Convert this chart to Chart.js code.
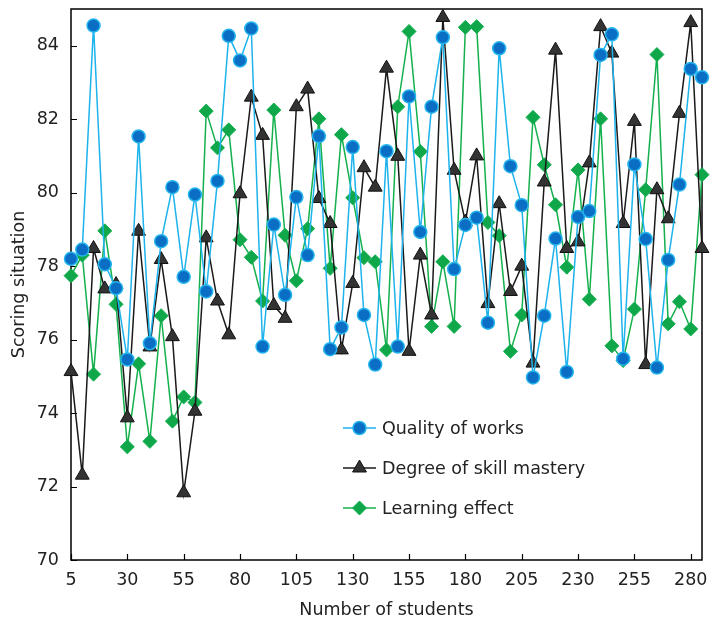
<!DOCTYPE html>
<html>
<head>
<meta charset="utf-8">
<script src="https://cdn.jsdelivr.net/npm/chart.js@4.4.1/dist/chart.umd.min.js"></script>
<style>
  html, body { margin: 0; padding: 0; background: #fff; }
</style>
</head>
<body>
<canvas id="c" width="711" height="623"></canvas>
<script>
// x categories (number of students)
const students = [5, 10, 15, 20, 25, 30, 35, 40, 45, 50, 55, 60, 65, 70, 75, 80, 85, 90, 95, 100,
  105, 110, 115, 120, 125, 130, 135, 140, 145, 150, 155, 160, 165, 170, 175, 180, 185, 190, 195, 200,
  205, 210, 215, 220, 225, 230, 235, 240, 245, 250, 255, 260, 265, 270, 275, 280, 285];

const quality = [78.2, 78.45, 84.55, 78.05, 77.4, 75.46, 81.53, 75.9, 78.68, 80.15,
  77.71, 79.95, 77.31, 80.32, 84.27, 83.6, 84.47, 75.81, 79.13, 77.22,
  79.88, 78.3, 81.54, 75.74, 76.33, 81.24, 76.67, 75.32, 81.13, 75.81,
  82.62, 78.93, 82.34, 84.23, 77.92, 79.12, 79.32, 76.46, 83.93, 80.72,
  79.66, 74.97, 76.65, 78.75, 75.12, 79.34, 79.5, 83.75, 84.31, 75.48,
  80.77, 78.74, 75.24, 78.17, 80.22, 83.37, 83.14];

const mastery = [75.13, 72.31, 78.48, 77.38, 77.5, 73.87, 78.95, 75.8, 78.18, 76.08,
  71.83, 74.05, 78.77, 77.05, 76.13, 79.97, 82.6, 81.56, 76.93, 76.58,
  82.34, 82.82, 79.84, 79.16, 75.72, 77.53, 80.68, 80.15, 83.39, 80.99,
  75.68, 78.3, 76.67, 84.77, 80.61, 79.2, 81.0, 76.98, 79.7, 77.31,
  78.0, 75.36, 80.29, 83.88, 78.48, 78.66, 80.81, 84.52, 83.8, 79.16,
  81.94, 75.32, 80.08, 79.29, 82.16, 84.63, 78.48];

const learning = [77.74, 78.3, 75.06, 78.96, 76.96, 73.08, 75.34, 73.23, 76.65, 73.78,
  74.44, 74.29, 82.22, 81.22, 81.71, 78.72, 78.24, 77.05, 82.25, 78.84,
  77.6, 79.02, 82.01, 77.94, 81.58, 79.86, 78.23, 78.12, 75.72, 82.34,
  84.39, 81.12, 76.36, 78.12, 76.36, 84.5, 84.52, 79.19, 78.83, 75.68,
  76.67, 82.05, 80.76, 79.67, 77.97, 80.62, 77.1, 82.01, 75.83, 75.43,
  76.83, 80.08, 83.76, 76.43, 77.03, 76.29, 80.49];

const xTicks = [5, 30, 55, 80, 105, 130, 155, 180, 205, 230, 255, 280];
const yTicks = [70, 72, 74, 76, 78, 80, 82, 84];

const font = { family: 'DejaVu Sans', size: 17.5 };
const toXY = arr => arr.map((v, i) => ({ x: students[i], y: v }));

// frame + inward tick marks
const frame = {
  id: 'frame',
  beforeDatasetsDraw(chart) {
    const { ctx, chartArea: a, scales: { x, y } } = chart;
    ctx.save();
    ctx.strokeStyle = '#000';
    ctx.lineWidth = 1.5;
    ctx.strokeRect(a.left, a.top, a.right - a.left, a.bottom - a.top);
    ctx.lineWidth = 1.2;
    ctx.beginPath();
    x.ticks.forEach(t => {
      const px = Math.round(x.getPixelForValue(t.value)) + 0.5;
      ctx.moveTo(px, a.bottom);
      ctx.lineTo(px, a.bottom - 6);
    });
    y.ticks.forEach(t => {
      const py = Math.round(y.getPixelForValue(t.value)) + 0.5;
      ctx.moveTo(a.left, py);
      ctx.lineTo(a.left + 6, py);
    });
    ctx.stroke();
    ctx.restore();
  },
  afterDatasetsDraw(chart) {
    // legend inside the plot
    const ctx = chart.ctx;
    const rows = [428, 468, 508];
    ctx.save();
    chart.data.datasets.forEach((ds, i) => {
      const yy = rows[i];
      ctx.strokeStyle = ds.borderColor;
      ctx.lineWidth = ds.borderWidth;
      ctx.beginPath();
      ctx.moveTo(343, yy);
      ctx.lineTo(376, yy);
      ctx.stroke();
      ctx.fillStyle = ds.pointBackgroundColor;
      ctx.strokeStyle = ds.pointBorderColor;
      ctx.lineWidth = ds.pointBorderWidth;
      Chart.helpers.drawPoint(ctx, { pointStyle: ds.pointStyle, radius: ds.pointRadius, rotation: 0, borderWidth: ds.pointBorderWidth }, 359.5, yy);
      ctx.fillStyle = '#222';
      ctx.font = '17.5px "DejaVu Sans"';
      ctx.textBaseline = 'middle';
      ctx.textAlign = 'left';
      ctx.fillText(ds.label, 382, yy + 1);
    });
    ctx.restore();
  }
};

new Chart(document.getElementById('c'), {
  type: 'line',
  data: {
    datasets: [
      {
        label: 'Quality of works',
        data: toXY(quality),
        borderColor: '#1db3ec',
        borderWidth: 1.5,
        pointStyle: 'circle',
        pointRadius: 6.5,
        pointBackgroundColor: '#0a6fc4',
        pointBorderColor: '#25b5ee',
        pointBorderWidth: 1.5,
        tension: 0,
        clip: false
      },
      {
        label: 'Degree of skill mastery',
        data: toXY(mastery),
        borderColor: '#1a1a1a',
        borderWidth: 1.5,
        pointStyle: 'triangle',
        pointRadius: 8,
        pointBackgroundColor: '#333333',
        pointBorderColor: '#111111',
        pointBorderWidth: 1,
        tension: 0,
        clip: false
      },
      {
        label: 'Learning effect',
        data: toXY(learning),
        borderColor: '#14b04e',
        borderWidth: 1.5,
        pointStyle: 'rectRot',
        pointRadius: 7,
        pointBackgroundColor: '#0fa74a',
        pointBorderColor: '#11b04e',
        pointBorderWidth: 1,
        tension: 0,
        clip: false
      }
    ]
  },
  options: {
    responsive: false,
    animation: false,
    layout: { padding: { top: 3, right: 7, left: 0, bottom: 0 } },
    plugins: {
      legend: { display: false },
      tooltip: { enabled: false }
    },
    scales: {
      x: {
        type: 'linear',
        min: 5,
        max: 285,
        afterBuildTicks: s => { s.ticks = xTicks.map(v => ({ value: v })); },
        afterFit: s => { s.height = 63; s.paddingLeft = 0; s.paddingRight = 0; },
        grid: { display: false, drawTicks: false },
        border: { display: false },
        ticks: { font, color: '#222', padding: 10, maxRotation: 0, autoSkip: false },
        title: { display: true, text: 'Number of students', font, color: '#222', padding: { top: 2, bottom: 2 } }
      },
      y: {
        min: 70,
        max: 85,
        afterBuildTicks: s => { s.ticks = yTicks.map(v => ({ value: v })); },
        afterFit: s => { s.width = 71; s.paddingTop = 0; s.paddingBottom = 0; },
        grid: { display: false, drawTicks: false },
        border: { display: false },
        ticks: { font, color: '#222', padding: 12 },
        title: { display: true, text: 'Scoring situation', font, color: '#222', padding: { top: 9, bottom: 2 } }
      }
    }
  },
  plugins: [frame]
});
</script>
</body>
</html>
